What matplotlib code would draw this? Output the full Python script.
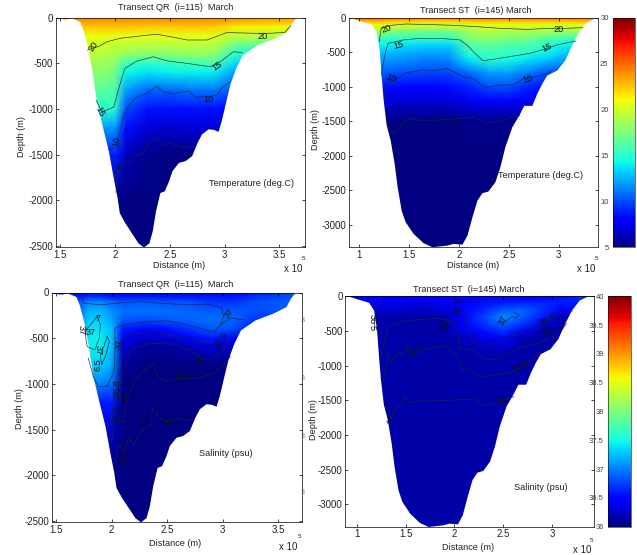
import numpy as np
import matplotlib
matplotlib.use('Agg')
import matplotlib.pyplot as plt

plt.rcParams['font.family'] = ['Liberation Sans', 'DejaVu Sans']

W, H = 637, 555

# ---- bottom profiles (distance in 1e5 m, depth in m) ----
qr_x = [1.45, 1.50, 1.55, 1.60, 1.68, 1.71, 1.75, 1.79, 1.83, 1.88, 1.94, 1.99, 2.02, 2.04, 2.09, 2.15, 2.21, 2.26,
        2.31, 2.34, 2.37, 2.41, 2.45, 2.49, 2.52, 2.58, 2.64, 2.70, 2.75, 2.79, 2.85, 2.90, 2.94, 2.97, 3.02, 3.05,
        3.10, 3.16, 3.29, 3.45, 3.57, 3.61, 3.65]
qr_bottom = [0, 12, 18, 3, 44, 136, 319, 575, 905, 1162, 1455, 1785, 1969, 2134, 2244, 2354, 2464, 2511,
             2464, 2335, 2115, 1914, 1895, 1785, 1675, 1584, 1565, 1510, 1364, 1272, 1217, 1224, 1246, 1125, 869, 722,
             557, 410, 300, 227, 154, 62, 0]
st_x = [0.92, 1.04, 1.12, 1.17, 1.20, 1.22, 1.24, 1.27, 1.31, 1.35, 1.38, 1.42, 1.46, 1.54, 1.64, 1.73, 1.88, 1.94,
        2.03, 2.08, 2.13, 2.18, 2.23, 2.29, 2.36, 2.41, 2.46, 2.53, 2.60, 2.65, 2.73, 2.78, 2.83, 2.88, 2.98, 3.06,
        3.13, 3.20, 3.28, 3.36]
st_bottom = [0, 53, 87, 198, 465, 852, 1190, 1554, 1771, 2110, 2449, 2788, 2957, 3127, 3262, 3320, 3296, 3272,
             3282, 3151, 2885, 2643, 2536, 2512, 2376, 2159, 1868, 1578, 1408, 1268, 1268, 1094, 949, 828, 755, 610,
             392, 198, 53, 0]

# ---- fields ----
qr_grid_x = [1.45, 1.7, 1.8, 1.9, 2.0, 2.1, 2.3, 2.5, 2.7, 2.9, 3.1, 3.3, 3.75]
qr_grid_z = [0, 50, 100, 200, 300, 400, 500, 600, 800, 1000, 1200, 1500, 2000, 2550]
qr_temp = [
    [24.2, 24.2, 24.2, 24.2, 24.2, 24.2, 24.2, 24.2, 24.2, 24.2, 24.0, 23.8, 23.6],
    [23.4, 23.4, 23.4, 23.4, 23.4, 23.4, 23.4, 23.4, 23.4, 23.4, 23.0, 22.8, 22.5],
    [22.6, 22.6, 22.6, 22.6, 22.6, 22.6, 22.4, 22.4, 22.6, 22.4, 21.6, 21.4, 20.8],
    [21.0, 21.0, 21.0, 20.8, 20.8, 20.8, 20.7, 20.8, 20.8, 20.7, 19.5, 19.5, 19.0],
    [20.0, 20.0, 20.0, 20.0, 19.8, 19.5, 19.3, 19.3, 19.5, 19.3, 17.0, 16.5, 16.0],
    [19.5, 19.5, 19.5, 19.3, 19.0, 18.3, 17.8, 18.0, 18.2, 18.0, 15.2, 14.0, 14.0],
    [18.5, 18.5, 18.5, 18.5, 18.0, 15.7, 15.0, 15.3, 15.7, 16.0, 13.5, 13.0, 13.0],
    [18.0, 18.0, 18.0, 18.0, 17.2, 14.2, 13.7, 14.0, 14.0, 14.0, 12.0, 12.0, 12.0],
    [16.5, 16.5, 16.5, 16.5, 16.0, 12.0, 10.5, 10.5, 11.0, 11.0, 10.0, 10.0, 10.0],
    [14.5, 14.5, 14.5, 15.0, 15.0, 10.0, 8.5, 8.5, 8.5, 8.5, 8.0, 8.0, 8.0],
    [12.0, 12.0, 12.0, 12.0, 12.0, 8.5, 7.0, 6.8, 7.0, 7.0, 7.0, 7.0, 7.0],
    [8.5, 8.5, 8.5, 8.5, 9.0, 6.3, 5.3, 5.0, 5.0, 5.0, 5.0, 5.0, 5.0],
    [5, 5, 5, 5, 5, 5, 5, 5, 5, 5, 5, 5, 5],
    [5, 5, 5, 5, 5, 5, 5, 5, 5, 5, 5, 5, 5],
]
qr_salt = [
    [36.5, 36.5, 36.5, 36.5, 36.5, 36.5, 36.5, 36.5, 36.5, 36.5, 36.5, 36.6, 36.8],
    [36.6, 36.6, 36.7, 36.7, 36.6, 36.6, 36.6, 36.6, 36.6, 36.6, 36.6, 36.7, 36.9],
    [36.7, 36.8, 37.0, 37.0, 36.9, 36.8, 36.85, 36.8, 36.8, 36.7, 36.7, 36.8, 36.9],
    [36.8, 36.9, 37.2, 37.2, 37.05, 36.95, 36.95, 36.95, 36.9, 36.85, 36.85, 36.8, 36.9],
    [37.0, 37.0, 37.3, 37.3, 37.15, 36.85, 36.8, 36.85, 36.9, 36.95, 36.9, 36.7, 36.7],
    [37.0, 37.0, 37.4, 37.4, 37.25, 36.6, 36.5, 36.55, 36.7, 36.85, 36.8, 36.5, 36.5],
    [37.3, 37.3, 37.45, 37.45, 37.25, 36.4, 36.25, 36.3, 36.4, 36.6, 36.5, 36.3, 36.3],
    [37.4, 37.4, 37.45, 37.45, 37.25, 36.25, 36.1, 36.1, 36.2, 36.3, 36.2, 36.1, 36.1],
    [37.3, 37.3, 37.3, 37.3, 37.15, 36.1, 36.0, 36.0, 36.0, 36.0, 36.0, 36.0, 36.0],
    [37.1, 37.1, 37.0, 37.0, 36.95, 36.0, 36.0, 36.0, 36.0, 36.0, 36.0, 36.0, 36.0],
    [36.8, 36.8, 36.7, 36.6, 36.6, 36.0, 36.0, 36.0, 36.0, 36.0, 36.0, 36.0, 36.0],
    [36.3, 36.3, 36.3, 36.3, 36.25, 36.0, 36.0, 36.0, 36.0, 36.0, 36.0, 36.0, 36.0],
    [36, 36, 36, 36, 36, 36, 36, 36, 36, 36, 36, 36, 36],
    [36, 36, 36, 36, 36, 36, 36, 36, 36, 36, 36, 36, 36],
]
st_grid_x = [0.88, 1.2, 1.3, 1.5, 1.7, 1.9, 2.1, 2.3, 2.5, 2.7, 2.9, 3.1, 3.42]
st_grid_z = [0, 50, 100, 200, 300, 400, 500, 600, 800, 1000, 1200, 1500, 2000, 3350]
st_temp = [
    [25.5, 25.0, 24.5, 24.5, 24.5, 24.5, 24.5, 24.5, 24.5, 24.5, 24.5, 24.5, 24.5],
    [23.0, 23.0, 22.5, 22.3, 22.2, 22.2, 22.3, 22.5, 22.5, 22.5, 22.5, 22.6, 23.0],
    [21.0, 21.0, 20.5, 20.3, 20.0, 20.0, 20.3, 20.8, 20.8, 20.6, 20.6, 20.6, 21.0],
    [19.0, 19.0, 17.5, 17.3, 17.2, 17.3, 18.5, 19.0, 19.0, 18.8, 18.5, 18.3, 18.5],
    [17.0, 15.5, 15.2, 15.0, 15.0, 15.0, 17.7, 18.0, 17.5, 17.2, 16.3, 15.4, 15.4],
    [14.5, 14.0, 14.0, 13.5, 13.3, 13.3, 16.0, 16.5, 16.0, 15.8, 14.8, 14.0, 14.0],
    [13.0, 13.0, 12.8, 12.4, 12.2, 12.3, 15.2, 15.7, 15.4, 15.1, 14.0, 13.0, 13.0],
    [12.0, 12.0, 12.0, 11.7, 11.3, 11.5, 13.8, 15.0, 14.3, 13.7, 13.0, 12.0, 12.0],
    [10.5, 10.5, 10.1, 9.9, 9.7, 9.8, 10.7, 12.0, 12.0, 11.0, 10.0, 9.5, 9.5],
    [8.6, 8.6, 8.4, 8.2, 8.2, 8.4, 9.0, 10.0, 10.0, 9.0, 8.5, 8.0, 8.0],
    [7.2, 7.2, 7.0, 7.0, 7.0, 7.0, 7.5, 8.0, 8.0, 7.5, 7.0, 7.0, 7.0],
    [5.2, 5.2, 5.1, 5.0, 5.0, 5.0, 5.3, 5.3, 5.2, 5.0, 5.0, 5.0, 5.0],
    [5, 5, 5, 5, 5, 5, 5, 5, 5, 5, 5, 5, 5],
    [5, 5, 5, 5, 5, 5, 5, 5, 5, 5, 5, 5, 5],
]
st_salt = [
    [36.5, 36.5, 36.5, 36.5, 36.5, 36.5, 36.5, 36.5, 36.5, 36.5, 36.5, 36.55, 36.7],
    [36.5, 36.5, 36.45, 36.45, 36.45, 36.5, 36.5, 36.55, 36.55, 36.55, 36.55, 36.6, 36.7],
    [36.4, 36.4, 36.4, 36.35, 36.35, 36.4, 36.5, 36.55, 36.6, 36.65, 36.65, 36.6, 36.6],
    [36.3, 36.3, 36.25, 36.25, 36.25, 36.3, 36.5, 36.65, 36.85, 36.9, 36.7, 36.5, 36.5],
    [36.2, 36.2, 36.15, 36.15, 36.15, 36.15, 36.5, 36.75, 37.05, 36.85, 36.6, 36.2, 36.2],
    [36.15, 36.15, 36.15, 36.15, 36.15, 36.15, 36.5, 36.7, 36.9, 36.7, 36.3, 36.15, 36.15],
    [36.15, 36.15, 36.15, 36.15, 36.15, 36.15, 36.4, 36.55, 36.7, 36.45, 36.15, 36.15, 36.15],
    [36.15, 36.15, 36.15, 36.15, 36.15, 36.15, 36.2, 36.4, 36.45, 36.2, 36.15, 36.15, 36.15],
    [36.15, 36.15, 36.15, 36.15, 36.15, 36.15, 36.15, 36.2, 36.2, 36.15, 36.15, 36.15, 36.15],
    [36.15, 36.15, 36.15, 36.15, 36.15, 36.15, 36.15, 36.15, 36.15, 36.15, 36.15, 36.15, 36.15],
    [36.15, 36.15, 36.15, 36.15, 36.15, 36.15, 36.15, 36.15, 36.15, 36.15, 36.15, 36.15, 36.15],
    [36.15, 36.15, 36.15, 36.15, 36.15, 36.15, 36.15, 36.15, 36.15, 36.15, 36.15, 36.15, 36.15],
    [36.15, 36.15, 36.15, 36.15, 36.15, 36.15, 36.15, 36.15, 36.15, 36.15, 36.15, 36.15, 36.15],
    [36.15, 36.15, 36.15, 36.15, 36.15, 36.15, 36.15, 36.15, 36.15, 36.15, 36.15, 36.15, 36.15],
]

# ---- contour lines, (distance, depth) ----
qr_temp_lines = [
    [(1.75, 356), (1.86, 312), (1.93, 264), (2.05, 227), (2.23, 202), (2.38, 183), (2.50, 209), (2.66, 246),
     (2.84, 246), (3.02, 165), (3.26, 172), (3.43, 172), (3.55, 161), (3.60, 92)],
    [(1.83, 905), (1.88, 1034), (1.99, 979), (2.03, 796), (2.09, 557), (2.20, 477), (2.35, 429), (2.47, 473),
     (2.66, 502), (2.87, 539), (2.96, 484), (3.08, 374), (3.16, 385)],
    [(1.94, 1448), (2.00, 1419), (2.05, 1235), (2.08, 1070), (2.14, 942), (2.20, 869), (2.29, 832), (2.38, 751),
     (2.44, 814), (2.53, 832), (2.67, 803), (2.73, 869), (2.84, 869), (2.93, 850), (2.97, 777), (3.05, 704)],
    [(2.01, 1914), (2.02, 1712), (2.09, 1602), (2.20, 1510), (2.26, 1492), (2.31, 1364), (2.38, 1309), (2.44, 1400),
     (2.50, 1375), (2.61, 1419), (2.72, 1408)],
]
st_temp_lines = [
    [(1.20, 344), (1.22, 150), (1.32, 106), (1.47, 87), (1.74, 97), (1.94, 106), (2.18, 126), (2.41, 150),
     (2.68, 165), (2.91, 150), (3.06, 150), (3.24, 140)],
    [(1.22, 828), (1.26, 513), (1.29, 368), (1.44, 319), (1.61, 295), (1.81, 295), (2.01, 319), (2.08, 392),
     (2.16, 513), (2.24, 620), (2.34, 600), (2.51, 561), (2.71, 513), (2.83, 465), (2.98, 392), (3.17, 334)],
    [(1.25, 1190), (1.27, 949), (1.36, 900), (1.47, 794), (1.64, 755), (1.76, 765), (1.88, 731), (2.04, 852),
     (2.14, 876), (2.26, 1007), (2.41, 973), (2.55, 973), (2.65, 876), (2.81, 842), (2.93, 779)],
    [(1.28, 1568), (1.35, 1684), (1.41, 1578), (1.49, 1457), (1.61, 1491), (1.78, 1481), (1.94, 1471), (2.14, 1442),
     (2.28, 1529), (2.41, 1491), (2.61, 1418)],
]
qr_salt_lines = [
    [(1.73, 44), (1.75, 117), (1.90, 135), (2.05, 117), (2.26, 99), (2.44, 117), (2.68, 135), (2.86, 128),
     (2.99, 161), (3.01, 263), (2.98, 354), (2.92, 434), (2.68, 354), (2.50, 310), (2.32, 318), (2.11, 354),
     (2.03, 391), (2.03, 719), (2.02, 865), (1.96, 1029), (1.88, 1029), (1.84, 938), (1.79, 719)],
    [(2.98, 354), (3.07, 281), (3.20, 299)],
    [(2.06, 617), (2.09, 518), (2.15, 464), (2.38, 427), (2.56, 482), (2.74, 518), (2.89, 566)],
    [(1.96, 1486), (2.00, 1376), (2.06, 1048), (2.09, 902), (2.15, 719), (2.18, 617), (2.35, 555), (2.56, 566),
     (2.71, 628), (2.83, 737), (2.92, 719), (3.01, 628), (3.08, 445), (3.14, 420)],
    [(2.00, 1632), (2.03, 1413), (2.11, 1413), (2.12, 1267), (2.20, 975), (2.26, 883), (2.38, 774), (2.41, 902),
     (2.47, 975), (2.59, 938), (2.77, 938), (2.92, 883), (3.01, 792), (3.07, 701)],
    [(2.03, 1887), (2.06, 1668), (2.12, 1741), (2.15, 1595), (2.20, 1668), (2.26, 1522), (2.35, 1449), (2.37, 1267),
     (2.44, 1376), (2.50, 1413), (2.62, 1376), (2.74, 1402)],
    [(1.87, 263), (1.90, 354), (1.89, 500), (1.85, 628), (1.78, 591), (1.76, 427), (1.81, 354), (1.87, 263)],
    [(1.96, 482), (1.98, 537), (1.95, 683), (1.91, 792), (1.90, 683), (1.93, 591), (1.96, 482)],
]
st_salt_lines = [
    [(1.32, 1578), (1.35, 1785), (1.39, 1616), (1.44, 1592), (1.49, 1448), (1.54, 1530), (1.65, 1510), (1.78, 1510),
     (1.99, 1496), (2.21, 1481), (2.30, 1582), (2.40, 1544), (2.61, 1448)],
    [(1.27, 1231), (1.32, 789), (1.35, 967), (1.42, 798), (1.46, 847), (1.53, 712), (1.58, 847), (1.68, 774),
     (1.89, 712), (2.04, 871), (2.08, 1063), (2.14, 1039), (2.26, 1159), (2.40, 1135), (2.54, 1111), (2.67, 1039),
     (2.81, 895), (2.88, 808), (2.98, 760)],
    [(1.25, 847), (1.32, 438), (1.44, 366), (1.58, 342), (1.82, 318), (1.99, 366), (2.05, 582), (2.04, 750),
     (2.20, 774), (2.30, 895), (2.40, 919), (2.54, 823), (2.67, 750), (2.85, 678), (2.98, 606), (3.09, 510),
     (3.15, 390)],
    [(2.04, 221), (2.13, 269), (2.11, 438), (2.18, 558), (2.16, 654), (2.30, 717), (2.43, 654), (2.64, 534),
     (2.81, 486), (2.90, 438), (3.02, 293), (3.09, 231), (3.21, 212)],
    [(2.61, 231), (2.66, 269), (2.64, 308), (2.59, 293), (2.49, 404)],
    [(1.22, 29), (1.25, 101), (1.20, 125), (1.18, 320), (1.18, 486)],
]

# ---- contour labels: distance, depth, text, rotation ----
qr_temp_labels = [(1.80, 319, '20', 55), (3.35, 209, '20', 0), (1.86, 1034, '15', -65), (2.93, 528, '15', 35),
                  (2.02, 1353, '10', 80), (2.85, 895, '10', 0), (2.05, 1639, '5', 60)]
st_temp_labels = [(1.27, 160, '20', 20), (3.00, 165, '20', 0), (1.39, 392, '15', 15), (2.88, 431, '15', 25),
                  (1.32, 876, '10', -20), (2.69, 890, '10', 15), (1.96, 1515, '5', 0)]
qr_salt_labels = [(1.81, 434, '37', 0), (1.73, 409, '37', -90), (1.88, 288, '7', 0), (1.88, 630, '37', -90),
                  (1.88, 790, '6.5', 90), (2.07, 566, '37', 90), (3.06, 226, '37', 50), (2.99, 518, '36.5', 55),
                  (2.77, 737, '36', -60), (2.64, 927, '35.8', 0), (2.05, 1050, '36.8', 90), (2.12, 1140, '36', 90),
                  (2.05, 1340, '36.6', 90), (2.50, 1423, '36', 20), (2.29, 1413, '7', 60), (2.11, 1814, '35', 90)]
st_salt_labels = [(2.04, 135, '36.5', 80), (2.50, 342, '37', 60), (2.96, 332, '36.5', 30), (2.97, 519, '36', 30),
                  (1.90, 414, '36', 60), (1.61, 774, '35.5', 30), (2.68, 1005, '35.5', 30), (2.49, 1510, '35', 15),
                  (1.16, 327, '36', -90), (1.16, 452, '5', -90), (1.32, 1794, '5', -60)]

x_ticks_qr = [1.5, 2, 2.5, 3, 3.5]
x_ticks_st = [1, 1.5, 2, 2.5, 3]
y_ticks_qr = [0, -500, -1000, -1500, -2000, -2500]
y_ticks_st = [0, -500, -1000, -1500, -2000, -2500, -3000]
temp_ticks = [5, 10, 15, 20, 25, 30]
salt_ticks = [36, 36.5, 37, 37.5, 38, 38.5, 39, 39.5, 40]


def box(left, top, right, bottom):
    return [left / W, 1 - bottom / H, (right - left) / W, (bottom - top) / H]


def label(x, y, text, **kw):
    # x, y in pixels from top left
    kw.setdefault('fontsize', 7)
    kw.setdefault('color', '#222222')
    fig.text(x / W, 1 - y / H, text, ha='center', va='center', **kw)


def section(rect, xlim, ylim, grid_x, grid_z, field, vmin, vmax, bot_x, bot_z, lines, labels, xticks, yticks):
    ax = fig.add_axes(box(*rect))
    mesh = ax.pcolormesh(grid_x, -np.array(grid_z), np.array(field), shading='gouraud',
                         cmap='jet', vmin=vmin, vmax=vmax, zorder=1)
    # white over everything below the sea bed
    xs = [xlim[0] - 0.1] + list(bot_x) + [xlim[1] + 0.1]
    zs = [0] + list(bot_z) + [0]
    ax.fill_between(xs, -np.array(zs), ylim[0] - 50, color='white', lw=0, zorder=1.5)
    for line in lines:
        pts = np.array(line)
        ax.plot(pts[:, 0], -pts[:, 1], color='#1a2a30', lw=0.45, zorder=2)
    for lx, lz, txt, rot in labels:
        ax.text(lx, -lz, txt, fontsize=6.6, rotation=rot, ha='center', va='center', color='#111111', zorder=3)
    ax.set_xlim(*xlim)
    ax.set_ylim(*ylim)
    ax.set_xticks(xticks)
    ax.set_xticklabels([('%g' % t) for t in xticks])
    ax.set_yticks(yticks)
    ax.set_yticklabels([('%d' % t) for t in yticks])
    ax.tick_params(direction='in', length=2.2, width=0.5, labelsize=7, top=True, right=True, pad=2,
                   labelcolor='#222222')
    for s in ax.spines.values():
        s.set_linewidth(0.5)
    return mesh


fig = plt.figure(figsize=(W / 100, H / 100), dpi=100)

m1 = section((56, 17.5, 305, 247), (1.463, 3.733), (-2510, 0), qr_grid_x, qr_grid_z, qr_temp, 5, 30,
             qr_x, qr_bottom, qr_temp_lines, qr_temp_labels, x_ticks_qr, y_ticks_qr)
m2 = section((349, 18, 598, 247), (0.897, 3.394), (-3324, 0), st_grid_x, st_grid_z, st_temp, 5, 30,
             st_x, st_bottom, st_temp_lines, st_temp_labels, x_ticks_st, y_ticks_st)
m3 = section((52, 292.5, 301.7, 522.3), (1.464, 3.711), (-2515, 0), qr_grid_x, qr_grid_z, qr_salt, 36, 40,
             qr_x, qr_bottom, qr_salt_lines, qr_salt_labels, x_ticks_qr, y_ticks_qr)
m4 = section((345.3, 296.3, 594, 526.7), (0.88, 3.431), (-3323, 0), st_grid_x, st_grid_z, st_salt, 36, 40,
             st_x, st_bottom, st_salt_lines, st_salt_labels, x_ticks_st, y_ticks_st)

# colorbars
for mesh, rect, ticks in [(m2, (612.7, 18, 635, 247), temp_ticks), (m4, (608, 296.3, 630.7, 526.7), salt_ticks)]:
    cax = fig.add_axes(box(*rect))
    cb = fig.colorbar(mesh, cax=cax, ticks=ticks)
    cb.ax.yaxis.set_ticks_position('left')
    cb.ax.set_yticklabels([('%g' % t) for t in ticks])
    cb.ax.tick_params(length=0, labelsize=5.5, labelcolor='#444444', pad=3)
    cb.outline.set_linewidth(0.4)

# titles and axis labels
label(175.5, 8, 'Transect QR  (i=115)  March', fontsize=6.6)
label(476, 10.5, 'Transect ST  (i=145) March', fontsize=6.6)
label(175.5, 284.5, 'Transect QR  (i=115)  March', fontsize=6.6)
label(469, 289.5, 'Transect ST  (i=145) March', fontsize=6.6)

label(179, 265.5, 'Distance (m)', fontsize=6.6)
label(473, 265.5, 'Distance (m)', fontsize=6.6)
label(175.5, 543, 'Distance (m)', fontsize=6.6)
label(468, 548, 'Distance (m)', fontsize=6.6)

label(22, 137, 'Depth (m)', rotation=90, fontsize=6.6)
label(315, 130, 'Depth (m)', rotation=90, fontsize=6.6)
label(20, 409, 'Depth (m)', rotation=90, fontsize=6.6)
label(313, 420, 'Depth (m)', rotation=90, fontsize=6.6)

label(251, 184, 'Temperature (deg.C)', fontsize=6.6)
label(541, 176, 'Temperature (deg.C)', fontsize=6.6)
label(226, 454, 'Salinity (psu)', fontsize=6.6)
label(541, 487, 'Salinity (psu)', fontsize=6.6)

for ex, ey, fx, fy in [(293, 269, 303, 258), (586, 269, 596, 258), (288, 547, 299, 536), (582, 550, 591, 541)]:
    label(ex, ey, 'x 10')
    label(fx, fy, '5', fontsize=4.5)

# cut off tick labels left of the lower right panel
for sy in [320, 379, 436, 493]:
    label(303, sy, '3', fontsize=5, color='#777777')

fig.savefig('out.png', dpi=100)
